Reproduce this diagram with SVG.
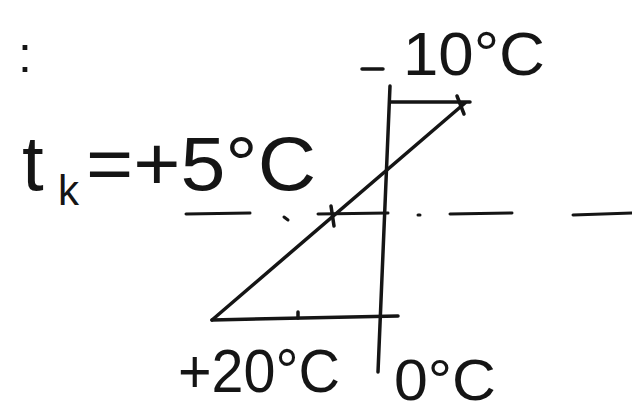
<svg xmlns="http://www.w3.org/2000/svg" width="632" height="413" viewBox="0 0 632 413">
<style>
.ln{stroke:#151515;stroke-width:3.5;fill:none;stroke-linecap:round}
.ds{stroke:#151515;stroke-width:3;fill:none;stroke-linecap:round}
.tx{font-family:"Liberation Sans","DejaVu Sans",sans-serif;fill:#151515}
</style>
<rect width="632" height="413" fill="#fff"/>
<g id="dashed-line">
<line class="ds" x1="186" y1="214" x2="250" y2="213"/>
<line class="ds" x1="284" y1="217" x2="288" y2="220"/>
<line class="ds" x1="318" y1="214" x2="388" y2="213"/>
<line class="ds" x1="418" y1="215" x2="420" y2="215"/>
<line class="ds" x1="450" y1="214" x2="512" y2="213"/>
<line class="ds" x1="573" y1="215" x2="632" y2="213"/>
</g>
<g id="diagram">
<line class="ln" x1="390" y1="86" x2="378" y2="372"/>
<line class="ln" x1="390" y1="102" x2="470" y2="102"/>
<line class="ln" x1="465" y1="103" x2="212" y2="320"/>
<line class="ln" x1="212" y1="320" x2="398" y2="316"/>
<line class="ln" x1="457" y1="96" x2="464" y2="114"/>
<line class="ln" x1="331" y1="206" x2="334" y2="226"/>
<line class="ln" x1="298" y1="312" x2="298" y2="318"/>
</g>
<g id="labels">
<text class="tx" x="18" y="72" font-size="50">:</text>
<line class="ln" x1="362" y1="69" x2="383" y2="69"/>
<text class="tx" x="403" y="75" font-size="62" textLength="142" lengthAdjust="spacingAndGlyphs">10°C</text>
<text class="tx" x="22" y="190" font-size="78">t</text>
<text class="tx" x="58" y="205" font-size="42">k</text>
<text class="tx" x="86" y="190" font-size="76" textLength="230" lengthAdjust="spacingAndGlyphs">=+5°C</text>
<text class="tx" x="178" y="392" font-size="62" textLength="162" lengthAdjust="spacingAndGlyphs">+20°C</text>
<text class="tx" x="394" y="400" font-size="58" textLength="102" lengthAdjust="spacingAndGlyphs">0°C</text>
</g>
</svg>
